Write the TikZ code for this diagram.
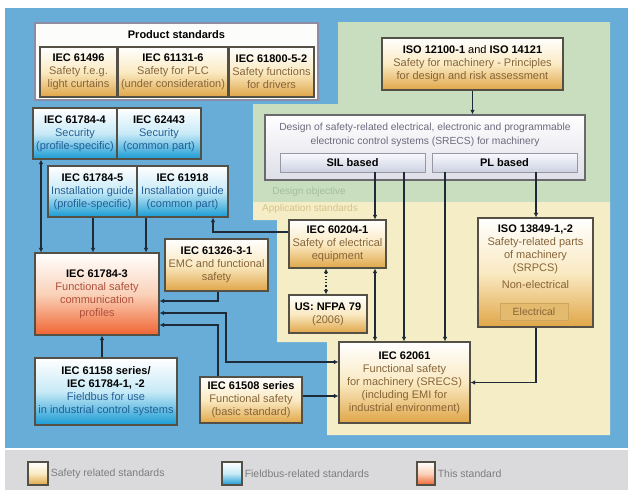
\documentclass[tikz,border=0pt]{standalone}
\usepackage{fontspec}
\setmainfont{Liberation Sans}
\usetikzlibrary{arrows.meta,shadows}

\definecolor{bgblue}{RGB}{104,172,216}
\definecolor{objgreen}{RGB}{200,222,190}
\definecolor{appyellow}{RGB}{244,237,198}
\definecolor{legendgray}{RGB}{218,218,220}
\definecolor{safegold}{RGB}{224,166,72}
\definecolor{safecream}{RGB}{250,234,195}
\definecolor{busblue}{RGB}{25,155,212}
\definecolor{buslight}{RGB}{200,234,247}
\definecolor{thisred}{RGB}{240,100,50}
\definecolor{thislight}{RGB}{250,210,185}
\definecolor{framec}{RGB}{85,80,70}
\definecolor{linec}{RGB}{30,42,55}
\definecolor{safetxt}{RGB}{135,100,55}
\definecolor{bustxt}{RGB}{35,95,150}
\definecolor{thistxt}{RGB}{175,80,60}
\definecolor{desgray}{RGB}{110,105,125}
\definecolor{objtxt}{RGB}{165,190,158}
\definecolor{apptxt}{RGB}{215,195,140}
\definecolor{legtxt}{RGB}{125,125,125}

\newcommand\ttl[1]{\textbf{\textcolor{black}{#1}}}

\begin{document}
\begin{tikzpicture}[x=1pt,y=-1pt,>={Latex[length=4.5pt,width=4.5pt]},
  wh/.style 2 args={minimum width=#1pt,minimum height=#2pt},
  box/.style={draw=framec,line width=1.1pt,inner sep=2pt,align=center,
    font=\fontsize{11}{13}\selectfont,
    drop shadow={shadow xshift=1.2pt,shadow yshift=-1.2pt,opacity=.35}},
  safe/.style={box,text=safetxt,top color=white,bottom color=safegold,middle color=safecream},
  bus/.style={box,text=bustxt,top color=white,bottom color=busblue,middle color=buslight},
  thisstd/.style={box,text=thistxt,top color=white,bottom color=thisred,middle color=thislight},
  pbox/.style={draw={rgb,255:red,140;green,140;blue,165},line width=1.1pt,fill={rgb,255:red,252;green,252;blue,250},
    drop shadow={shadow xshift=1.2pt,shadow yshift=-1.2pt,opacity=.3}},
  desbox/.style={draw={rgb,255:red,105;green,105;blue,110},line width=1.3pt,top color=white,bottom color={rgb,255:red,222;green,222;blue,232},
    drop shadow={shadow xshift=1.2pt,shadow yshift=-1.2pt,opacity=.3}},
  subbox/.style={draw={rgb,255:red,150;green,150;blue,165},line width=.8pt,top color={rgb,255:red,250;green,250;blue,255},
    bottom color={rgb,255:red,205;green,210;blue,225},font=\bfseries\fontsize{11}{12}\selectfont,inner sep=1pt},
  elbox/.style={draw={rgb,255:red,205;green,165;blue,95},line width=.8pt,fill={rgb,255:red,228;green,186;blue,110},
    text=safetxt,font=\fontsize{10.5}{12}\selectfont,inner sep=1pt},
  zone/.style={font=\fontsize{10}{11}\selectfont,inner sep=0pt},
  legend/.style={font=\fontsize{10.5}{12}\selectfont,text=legtxt,anchor=west,inner sep=2pt},
  link/.style={draw=linec,line width=1.2pt}]

\useasboundingbox(0,0)rectangle(633,490);
\fill[bgblue](5,8)rectangle(628,448);
\fill[legendgray](5,450)rectangle(628,490);
\fill[objgreen](338,22)--(610,22)--(610,202)--(253,202)--(253,104)--(338,104)--cycle;
\fill[appyellow](253,202)--(610,202)--(610,435)--(327,435)--(327,342)--(277,342)--(277,220)--(253,220)--cycle;
\node[zone,text=objtxt](dobj)at(309,192){Design objective};
\node[zone,text=apptxt](appstd)at(310,209){Application standards};

\node[pbox,wh={283}{77}](prod)at(176.5,61.5){};
\node[font=\bfseries\fontsize{11}{12}\selectfont,inner sep=0pt](prodtitle)at(176.5,35){Product standards};
\node[safe,wh={77}{50}](iec61496)at(78.5,72){\ttl{IEC 61496}\\Safety f.e.g.\\light curtains};
\node[safe,wh={110}{50}](iec611316)at(173,72){\ttl{IEC 61131-6}\\Safety for PLC\\(under consideration)};
\node[safe,wh={85}{50}](iec6180052)at(271.5,72){\ttl{IEC 61800-5-2}\\Safety functions\\for drivers};

\node[safe,wh={181}{52}](iso12100)at(472.5,64){\ttl{ISO 12100-1 {\mdseries and} ISO 14121}\\Safety for machinery - Principles\\for design and risk assessment};
\node[desbox,wh={320}{65}](design)at(425,147.5){};
\node[inner sep=0pt,align=center,text=desgray,font=\fontsize{10.3}{14}\selectfont](designtxt)at(425,134.5){Design of safety-related electrical, electronic and programmable\\electronic control systems (SRECS) for machinery};
\node[subbox,wh={145}{19}](sil)at(352.5,162.5){SIL based};
\node[subbox,wh={145}{19}](pl)at(504.5,162.5){PL based};

\node[bus,wh={84}{51}](iec617844)at(75,133.5){\ttl{IEC 61784-4}\\Security\\(profile-specific)};
\node[bus,wh={84}{51}](iec62443)at(159,133.5){\ttl{IEC 62443}\\Security\\(common part)};
\node[bus,wh={89}{51}](iec617845)at(92.5,191.5){\ttl{IEC 61784-5}\\Installation guide\\(profile-specific)};
\node[bus,wh={91}{51}](iec61918)at(182.5,191.5){\ttl{IEC 61918}\\Installation guide\\(common part)};

\node[thisstd,wh={124}{82}](iec617843)at(97,294){\ttl{IEC 61784-3}\\Functional safety\\communication\\profiles};
\node[safe,wh={103}{52}](iec613263)at(216.5,265){\ttl{IEC 61326-3-1}\\EMC and functional\\safety};
\node[safe,wh={97}{48}](iec60204)at(337.5,244){\ttl{IEC 60204-1}\\Safety of electrical\\equipment};
\node[safe,wh={78}{38}](nfpa)at(328,314){\ttl{US: NFPA 79}\\(2006)};

\node[safe,wh={115}{109}](iso13849)at(535.5,272.5){};
\node[inner sep=0pt,align=center,text=safetxt,font=\fontsize{11}{13}\selectfont,anchor=north](iso13849txt)at(535.5,225){\ttl{ISO 13849-1,-2}\\Safety-related parts\\of machinery\\(SRPCS)\\[4pt]Non-electrical};
\node[elbox,wh={68}{17}](elec)at(534,311.5){Electrical};

\node[safe,wh={131}{81}](iec62061)at(404.5,382.5){\ttl{IEC 62061}\\Functional safety\\for machinery (SRECS)\\(including EMI for\\industrial environment)};
\node[safe,wh={102}{46}](iec61508)at(251,400){\ttl{IEC 61508 series}\\Functional safety\\(basic standard)};
\node[bus,wh={142}{67}](iec61158)at(106,391.5){\ttl{IEC 61158 series/}\\\ttl{IEC 61784-1, -2}\\Fieldbus for use\\in industrial control systems};

\draw[link,->](iso12100.south)--(iso12100.south|-design.north);
\draw[link,->](sil.south-|375,0)--(iec60204.north-|375,0);
\draw[link,->](sil.south-|404,0)--(iec62061.north-|404,0);
\draw[link,->](pl.south-|445,0)--(iec62061.north-|445,0);
\draw[link,->](pl.south-|536,0)--(iso13849.north-|536,0);
\draw[link,<->](iec60204.south-|375,0)--(iec62061.north-|375,0);
\draw[link,<->,dotted](iec60204.south-|326,0)--(nfpa.north-|326,0);
\draw[link,->](iec60204.west|-0,232)-|(iec61918.south-|213,0);
\draw[link,<->](iec617844.south-|41,0)--(iec617843.north-|41,0);
\draw[link,->](iec617845.south-|93,0)--(iec617843.north-|93,0);
\draw[link,->](iec61918.south-|146,0)--(iec617843.north-|146,0);
\draw[link,->](iec613263.south-|218,0)|-(iec617843.east|-0,301);
\draw[link,<->](iec62061.west|-0,362)-|(226,313)--(iec617843.east|-0,313);
\draw[link,->](iec61508.north-|218,0)|-(iec617843.east|-0,325);
\draw[link,->](iec61508.east|-0,396)--(iec62061.west|-0,396);
\draw[link,->](iec61158.north-|102,0)--(iec617843.south-|102,0);
\draw[link,->](iso13849.south-|536,0)|-(iec62061.east);

\node[safe,wh={20}{23},drop shadow={opacity=0}](lgsafe)at(38,473.5){};
\node[legend](lgsafetxt)at(lgsafe.east){Safety related standards};
\node[bus,wh={20}{23},drop shadow={opacity=0}](lgbus)at(232,473.5){};
\node[legend](lgbustxt)at(lgbus.east){Fieldbus-related standards};
\node[thisstd,wh={18}{23},drop shadow={opacity=0}](lgthis)at(426,473.5){};
\node[legend](lgthistxt)at(lgthis.east){This standard};
\end{tikzpicture}
\end{document}
